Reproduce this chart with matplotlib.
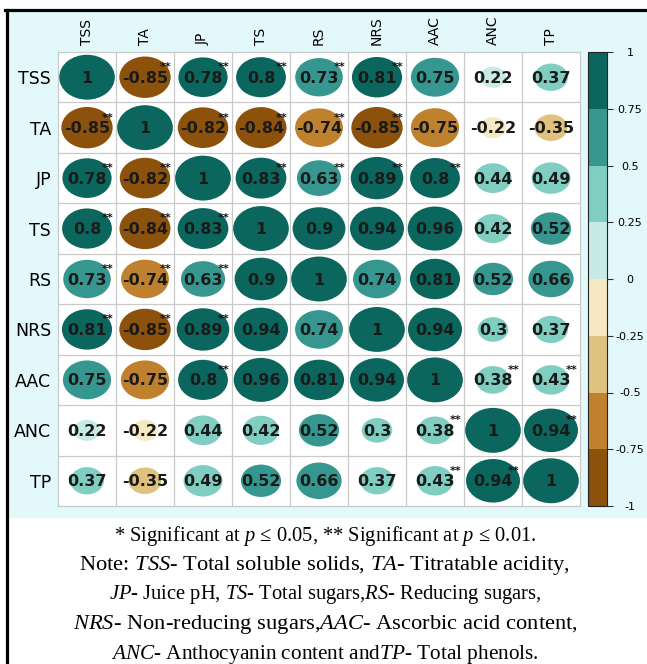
import matplotlib.pyplot as plt
import numpy as np
from matplotlib.patches import Ellipse, Rectangle
from matplotlib.colors import ListedColormap, BoundaryNorm
from matplotlib.cm import ScalarMappable
from matplotlib.lines import Line2D

plt.rcParams['mathtext.fontset'] = 'custom'
plt.rcParams['mathtext.rm'] = 'Liberation Serif'
plt.rcParams['mathtext.it'] = 'Liberation Serif:italic'

labels = ['TSS', 'TA', 'JP', 'TS', 'RS', 'NRS', 'AAC', 'ANC', 'TP']

corr = np.array([
    [1, -0.85, 0.78, 0.8, 0.73, 0.81, 0.75, 0.22, 0.37],
    [-0.85, 1, -0.82, -0.84, -0.74, -0.85, -0.75, -0.22, -0.35],
    [0.78, -0.82, 1, 0.83, 0.63, 0.89, 0.8, 0.44, 0.49],
    [0.8, -0.84, 0.83, 1, 0.9, 0.94, 0.96, 0.42, 0.52],
    [0.73, -0.74, 0.63, 0.9, 1, 0.74, 0.81, 0.52, 0.66],
    [0.81, -0.85, 0.89, 0.94, 0.74, 1, 0.94, 0.3, 0.37],
    [0.75, -0.75, 0.8, 0.96, 0.81, 0.94, 1, 0.38, 0.43],
    [0.22, -0.22, 0.44, 0.42, 0.52, 0.3, 0.38, 1, 0.94],
    [0.37, -0.35, 0.49, 0.52, 0.66, 0.37, 0.43, 0.94, 1],
])

# 1 = significant at p <= 0.01 (**)
sig = np.array([
    [0, 1, 1, 1, 1, 1, 0, 0, 0],
    [1, 0, 1, 1, 1, 1, 0, 0, 0],
    [1, 1, 0, 1, 1, 1, 1, 0, 0],
    [1, 1, 1, 0, 0, 0, 0, 0, 0],
    [1, 1, 1, 0, 0, 0, 0, 0, 0],
    [1, 1, 1, 0, 0, 0, 0, 0, 0],
    [0, 0, 1, 0, 0, 0, 0, 1, 1],
    [0, 0, 0, 0, 0, 0, 1, 0, 1],
    [0, 0, 0, 0, 0, 0, 1, 1, 0],
])

palette = ['#8c510a', '#bf812d', '#dfc27d', '#f6e8c3',
           '#c7eae5', '#80cdc1', '#35978f', '#0b675d']
bounds = [-1, -0.75, -0.5, -0.25, 0, 0.25, 0.5, 0.75, 1]
cbar_ticks = [1, 0.75, 0.5, 0.25, 0, -0.25, -0.5, -0.75, -1]


def cell_color(r):
    # bins closed toward zero, so 0.75 / -0.75 fall in the lighter class
    k = min(max(int(np.ceil(abs(r) / 0.25)), 1), 4)
    return palette[3 + k] if r >= 0 else palette[4 - k]


W, H = 647, 664
fig = plt.figure(figsize=(W / 100, H / 100), dpi=100)
fig.patch.set_facecolor('white')

# panel background + frame
fig.add_artist(Rectangle((8 / W, 1 - 517 / H), 1 - 8 / W, 506 / H,
                         transform=fig.transFigure, color='#e3f8fb', zorder=0))
fig.add_artist(Line2D([5 / W, 1], [1 - 9.5 / H, 1 - 9.5 / H],
                      transform=fig.transFigure, color='black', lw=2.3))
fig.add_artist(Line2D([6.5 / W, 6.5 / W], [0, 1 - 9.5 / H],
                      transform=fig.transFigure, color='black', lw=2.3))

ax = fig.add_axes([58 / W, 1 - 506 / H, 522 / W, 454 / H])
ax.set_facecolor('white')
n = len(labels)
ax.set_xlim(0, n)
ax.set_ylim(n, 0)
for k in range(1, n):
    ax.axvline(k, color='#c9c9c9', lw=0.9, zorder=1)
    ax.axhline(k, color='#c9c9c9', lw=0.9, zorder=1)
for s in ax.spines.values():
    s.set_color('#c9c9c9')
    s.set_linewidth(0.9)

for i in range(n):
    for j in range(n):
        r = corr[i, j]
        d = np.sqrt(abs(r))
        ax.add_patch(Ellipse((j + 0.5, i + 0.5), 0.96 * d, 0.89 * d,
                             facecolor=cell_color(r), edgecolor='none', zorder=2))
        ax.text(j + 0.5, i + 0.52, f'{r:g}', ha='center', va='center',
                fontsize=11.5, fontweight='bold', color='#1a1a1a', zorder=3)
        if sig[i, j]:
            ax.text(j + 0.86, i + 0.3, '**', ha='center', va='center',
                    fontsize=8, fontweight='bold', color='#111111', zorder=4)

ax.xaxis.tick_top()
ax.set_xticks(np.arange(n) + 0.5)
ax.set_xticklabels(labels, rotation=90, fontsize=10)
ax.set_yticks(np.arange(n) + 0.5)
ax.set_yticklabels(labels, fontsize=12.5)
ax.tick_params(length=0, pad=5)

# colorbar
cax = fig.add_axes([588 / W, 1 - 506 / H, 19 / W, 454 / H])
cmap = ListedColormap(palette)
norm = BoundaryNorm(bounds, cmap.N)
cb = fig.colorbar(ScalarMappable(norm=norm, cmap=cmap), cax=cax, ticks=cbar_ticks)
cb.ax.set_yticklabels([f'{t:g}' for t in cbar_ticks])
cb.outline.set_linewidth(0.8)
cb.outline.set_edgecolor('#222222')
cax.tick_params(length=4, width=0.8, labelsize=8, pad=12.5, color='#333333')
plt.setp(cax.get_yticklabels(), ha='center')

caption = [
    r'* Significant at $p$ ≤ 0.05, ** Significant at $p$ ≤ 0.01.',
    r'Note: $TSS$- Total soluble solids, $TA$- Titratable acidity,',
    r'$JP$- Juice pH, $TS$- Total sugars,$RS$- Reducing sugars,',
    r'$NRS$- Non-reducing sugars,$AAC$- Ascorbic acid content,',
    r'$ANC$- Anthocyanin content and$TP$- Total phenols.',
]
caption_size = [14.8, 16.2, 14.8, 16.2, 15.3]
for k, line in enumerate(caption):
    fig.text(325 / W, 1 - (536 + 29.5 * k) / H, line, ha='center', va='center',
             fontsize=caption_size[k], family='Liberation Serif')

fig.savefig('out.png', dpi=100)
